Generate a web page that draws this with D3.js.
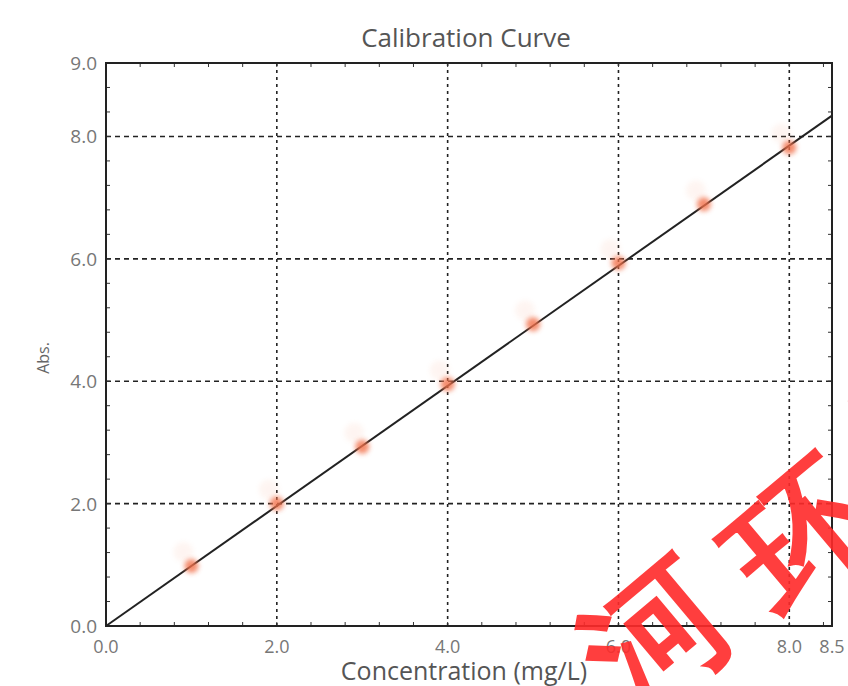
<!DOCTYPE html>
<html>
<head>
<meta charset="utf-8">
<script src="https://cdn.jsdelivr.net/npm/d3@7"></script>
<style>
  body { margin: 0; background: #fff; }
  text { font-family: "Open Sans", "DejaVu Sans", sans-serif; }
</style>
</head>
<body>
<script>
// data
const conc = [1, 2, 3, 4, 5, 6, 7, 8];
const absVals = [0.98, 2.0, 2.93, 3.95, 4.93, 5.93, 6.89, 7.82];
const fitX = [0, 8.5];
const fitY = [0, 8.34];
const xTicks = [0, 2, 4, 6, 8, 8.5];
const xTickLabels = ["0.0", "2.0", "4.0", "6.0", "8.0", "8.5"];
const yTicks = [0, 2, 4, 6, 8, 9.2];
const yTickLabels = ["0.0", "2.0", "4.0", "6.0", "8.0", "9.0"];
const gridX = [2, 4, 6, 8];
const gridY = [2, 4, 6, 8];
const stampChars = ["河", "环", "境"];

let width = 848, height = 686;
let margin = { top: 63, bottom: 60, left: 106, right: 16 };

let svg = d3.select('body')
  .append('svg')
  .attr('width', width)
  .attr('height', height);

const xScale = d3.scaleLinear().domain([0, 8.5]).range([margin.left, width - margin.right]);
const yScale = d3.scaleLinear().domain([0, 9.2]).range([height - margin.bottom, margin.top]);

// blur for the soft markers
const defs = svg.append("defs");
defs.append("filter").attr("id", "soft")
  .attr("x", "-100%").attr("y", "-100%").attr("width", "300%").attr("height", "300%")
  .append("feGaussianBlur").attr("stdDeviation", 2.4);

// grid lines
svg.append("g").selectAll("line")
  .data(gridX).enter().append("line")
  .attr("x1", d => xScale(d)).attr("x2", d => xScale(d))
  .attr("y1", yScale(0)).attr("y2", yScale(9.2))
  .attr("stroke", "#222").attr("stroke-width", 1.6)
  .attr("stroke-dasharray", "3,4");

svg.append("g").selectAll("line")
  .data(gridY).enter().append("line")
  .attr("y1", d => yScale(d)).attr("y2", d => yScale(d))
  .attr("x1", xScale(0)).attr("x2", xScale(8.5))
  .attr("stroke", "#222").attr("stroke-width", 1.6)
  .attr("stroke-dasharray", "5,4");

// minor ticks pointing inward on all four sides
const minor = d3.range(0, 8.5, 0.4);
const minorY = d3.range(0, 9.2, 0.4);
const ticks = svg.append("g").attr("stroke", "#333").attr("stroke-width", 1);
ticks.selectAll(".tb").data(minor).enter().append("line")
  .attr("x1", d => xScale(d)).attr("x2", d => xScale(d))
  .attr("y1", yScale(0)).attr("y2", yScale(0) - 4);
ticks.selectAll(".tt").data(minor).enter().append("line")
  .attr("x1", d => xScale(d)).attr("x2", d => xScale(d))
  .attr("y1", yScale(9.2)).attr("y2", yScale(9.2) + 4);
ticks.selectAll(".tl").data(minorY).enter().append("line")
  .attr("y1", d => yScale(d)).attr("y2", d => yScale(d))
  .attr("x1", xScale(0)).attr("x2", xScale(0) + 4);
ticks.selectAll(".tr").data(minorY).enter().append("line")
  .attr("y1", d => yScale(d)).attr("y2", d => yScale(d))
  .attr("x1", xScale(8.5)).attr("x2", xScale(8.5) - 4);

// fitted line
svg.append("path")
  .datum(d3.zip(fitX, fitY))
  .attr("fill", "none")
  .attr("stroke", "#222")
  .attr("stroke-width", 2)
  .attr("d", d3.line().x(d => xScale(d[0])).y(d => yScale(d[1])));

// markers (faint ghost + main blob)
const pts = d3.zip(conc, absVals);
svg.append("g").selectAll("circle")
  .data(pts).enter().append("circle")
  .attr("cx", d => xScale(d[0]) - 8)
  .attr("cy", d => yScale(d[1]) - 14)
  .attr("r", 10)
  .attr("fill", "#f6a080").attr("opacity", 0.1)
  .attr("filter", "url(#soft)");
svg.append("g").selectAll("circle")
  .data(pts).enter().append("circle")
  .attr("cx", d => xScale(d[0]))
  .attr("cy", d => yScale(d[1]))
  .attr("r", 7)
  .attr("fill", "#f2704a").attr("opacity", 0.8)
  .attr("filter", "url(#soft)");

// frame
svg.append("rect")
  .attr("x", xScale(0)).attr("y", yScale(9.2))
  .attr("width", xScale(8.5) - xScale(0))
  .attr("height", yScale(0) - yScale(9.2))
  .attr("fill", "none").attr("stroke", "#222").attr("stroke-width", 2);

// tick labels
svg.append("g").selectAll("text")
  .data(xTicks).enter().append("text")
  .attr("x", d => xScale(d))
  .attr("y", yScale(0) + 27)
  .attr("text-anchor", "middle")
  .attr("font-size", 18).attr("fill", "#777")
  .text((d, i) => xTickLabels[i]);

svg.append("g").selectAll("text")
  .data(yTicks).enter().append("text")
  .attr("x", xScale(0) - 9)
  .attr("y", d => yScale(d) + 7)
  .attr("text-anchor", "end")
  .attr("font-size", 19).attr("fill", "#777")
  .text((d, i) => yTickLabels[i]);

// title and axis labels
svg.append("text")
  .attr("x", 466).attr("y", 47)
  .attr("text-anchor", "middle")
  .attr("font-size", 26).attr("fill", "#555")
  .text("Calibration Curve");

svg.append("text")
  .attr("x", 464).attr("y", 680)
  .attr("text-anchor", "middle")
  .attr("font-size", 25).attr("fill", "#555")
  .text("Concentration (mg/L)");

svg.append("text")
  .attr("transform", "translate(49,358)rotate(-90)")
  .attr("text-anchor", "middle")
  .attr("font-size", 16).attr("fill", "#666")
  .text("Abs.");

// red watermark, one glyph at a time along a diagonal
const stampPos = [[688, 672], [835, 575], [962, 455]];
svg.append("g").selectAll("text")
  .data(stampChars).enter().append("text")
  .attr("transform", (d, i) => `translate(${stampPos[i][0]},${stampPos[i][1]})rotate(-40)`)
  .attr("text-anchor", "middle")
  .attr("font-size", 140).attr("font-weight", "bold")
  .attr("font-family", "Noto Sans CJK SC")
  .attr("fill", "#ff2a2a").attr("opacity", 0.9)
  .text(d => d);
</script>
</body>
</html>
